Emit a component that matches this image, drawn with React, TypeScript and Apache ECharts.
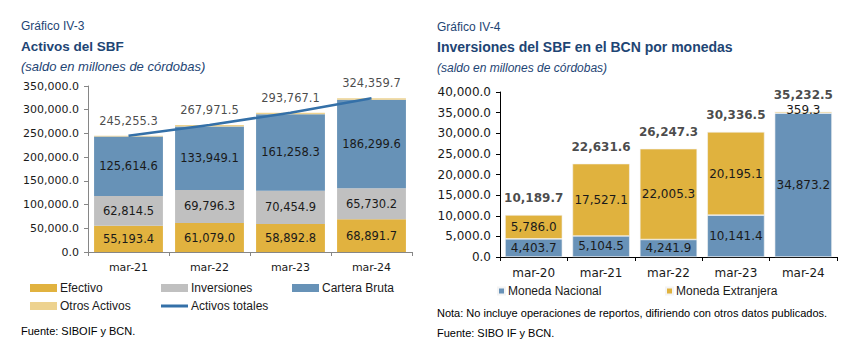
import React, { useEffect, useRef } from "react";
import * as echarts from "echarts";

const catsLeft = ["mar-21", "mar-22", "mar-23", "mar-24"];
const efectivo = [55193.4, 61079.0, 58892.8, 68891.7];
const inversiones = [62814.5, 69796.3, 70454.9, 65730.2];
const cartera = [125614.6, 133949.1, 161258.3, 186299.6];
const otros = [1632.8, 3147.1, 3161.1, 3438.2];
const totales = [245255.3, 267971.5, 293767.1, 324359.7];

const catsRight = ["mar-20", "mar-21", "mar-22", "mar-23", "mar-24"];
const nacional = [4403.7, 5104.5, 4241.9, 10141.4, 34873.2];
const extranjera = [5786.0, 17527.1, 22005.3, 20195.1, 359.3];
const totalRight = [10189.7, 22631.6, 26247.3, 30336.5, 35232.5];

function fmt(v: number): string {
  const s = v.toFixed(1);
  const [i, d] = s.split(".");
  return i.replace(/\B(?=(\d{3})+(?!\d))/g, ",") + "." + d;
}

const SANS = "Liberation Sans, Arial, sans-serif";
const VERD = "DejaVu Sans, Verdana, sans-serif";
const NAVY = "#1E4574";
const INK = "#1a1a1a";

function leg(name: string, left: number, top: number, w: number, h: number, icon?: string) {
  const l: any = {
    data: [icon ? { name, icon } : name],
    left,
    top,
    itemWidth: w,
    itemHeight: h,
    itemGap: 0,
    padding: 0,
    textStyle: { fontFamily: SANS, fontSize: 12, color: INK, padding: [0, 0, 0, -2] },
  };
  return l;
}

export default function App() {
  const ref = useRef<HTMLDivElement>(null);
  useEffect(() => {
    document.body.style.margin = "0";
    if (!ref.current) return;
    const chart = echarts.init(ref.current, undefined, { renderer: "svg" });
    const lblL = {
      show: true,
      position: "inside",
      color: INK,
      fontFamily: VERD,
      fontSize: 11.5,
      formatter: (p: any) => fmt(p.value),
    };
    const lblR = {
      show: true,
      position: "inside",
      color: INK,
      fontFamily: VERD,
      fontSize: 12,
      formatter: (p: any) => fmt(p.value),
    };
    const option: any = {
      animation: false,
      grid: [
        { left: 88, top: 86, width: 324, height: 166 },
        { left: 500, top: 92, width: 337, height: 165 },
      ],
      xAxis: [
        {
          type: "category",
          gridIndex: 0,
          data: catsLeft,
          axisLine: { lineStyle: { color: "#868686" } },
          axisTick: { show: true, length: 4, lineStyle: { color: "#868686" } },
          axisLabel: { color: INK, fontFamily: VERD, fontSize: 11, margin: 10 },
        },
        {
          type: "category",
          gridIndex: 1,
          data: catsRight,
          axisLine: { lineStyle: { color: "#000" } },
          axisTick: { show: true, length: 4, lineStyle: { color: "#000" } },
          axisLabel: { color: INK, fontFamily: VERD, fontSize: 12, margin: 10 },
        },
      ],
      yAxis: [
        {
          type: "value",
          gridIndex: 0,
          min: 0,
          max: 350000,
          interval: 50000,
          splitLine: { show: false },
          axisLine: { show: true, lineStyle: { color: "#868686" } },
          axisTick: { show: true, length: 4, lineStyle: { color: "#868686" } },
          axisLabel: {
            color: INK,
            fontFamily: VERD,
            fontSize: 11,
            margin: 9,
            formatter: (v: number) => fmt(v),
          },
        },
        {
          type: "value",
          gridIndex: 1,
          min: 0,
          max: 40000,
          interval: 5000,
          splitLine: { show: false },
          axisLine: { show: true, lineStyle: { color: "#000" } },
          axisTick: { show: true, length: 4, lineStyle: { color: "#000" } },
          axisLabel: {
            color: INK,
            fontFamily: VERD,
            fontSize: 12,
            margin: 9,
            formatter: (v: number) => fmt(v),
          },
        },
      ],
      legend: [
        leg("Efectivo", 30, 282, 27, 8, "rect"),
        leg("Inversiones", 161, 282, 27, 8, "rect"),
        leg("Cartera Bruta", 292, 282, 27, 8, "rect"),
        leg("Otros Activos", 30, 300, 27, 8, "rect"),
        leg("Activos totales", 161, 300, 27, 3, "rect"),
        leg("Moneda Nacional", 497, 285, 7, 7, "rect"),
        leg("Moneda Extranjera", 665, 285, 7, 7, "rect"),
      ],
      series: [
        {
          name: "Efectivo",
          type: "bar",
          stack: "a",
          xAxisIndex: 0,
          yAxisIndex: 0,
          barCategoryGap: "15%",
          data: efectivo,
          itemStyle: { color: "#E1B23F" },
          label: lblL,
        },
        {
          name: "Inversiones",
          type: "bar",
          stack: "a",
          xAxisIndex: 0,
          yAxisIndex: 0,
          data: inversiones,
          itemStyle: { color: "#C0C0C0" },
          label: lblL,
        },
        {
          name: "Cartera Bruta",
          type: "bar",
          stack: "a",
          xAxisIndex: 0,
          yAxisIndex: 0,
          data: cartera,
          itemStyle: { color: "#6792B7" },
          label: lblL,
        },
        {
          name: "Otros Activos",
          type: "bar",
          stack: "a",
          xAxisIndex: 0,
          yAxisIndex: 0,
          data: otros,
          itemStyle: { color: "#EDD28F" },
        },
        {
          name: "Activos totales",
          type: "line",
          xAxisIndex: 0,
          yAxisIndex: 0,
          data: totales,
          symbol: "none",
          lineStyle: { color: "#3470A8", width: 2.5 },
          itemStyle: { color: "#3470A8" },
          z: 5,
        },
        {
          name: "Activos totales etiqueta",
          type: "scatter",
          xAxisIndex: 0,
          yAxisIndex: 0,
          data: totales,
          symbolSize: 0,
          itemStyle: { color: "transparent" },
          label: {
            show: true,
            position: "top",
            distance: 9,
            color: INK,
            fontFamily: VERD,
            fontSize: 11.5,
            formatter: (p: any) => fmt(p.value),
          },
          z: 6,
        },
        {
          name: "Moneda Nacional",
          type: "bar",
          stack: "b",
          xAxisIndex: 1,
          yAxisIndex: 1,
          barCategoryGap: "15%",
          data: nacional,
          itemStyle: { color: "#6892B8", borderColor: "#f4f4f4", borderWidth: 0.6 },
          label: lblR,
        },
        {
          name: "Moneda Extranjera",
          type: "bar",
          stack: "b",
          xAxisIndex: 1,
          yAxisIndex: 1,
          data: extranjera.map((v, i) =>
            i === extranjera.length - 1
              ? { value: v, label: { position: "top", distance: -4 } }
              : v
          ),
          itemStyle: { color: "#E0B23E", borderColor: "#f4f4f4", borderWidth: 0.6 },
          label: lblR,
        },
        {
          name: "Total",
          type: "scatter",
          xAxisIndex: 1,
          yAxisIndex: 1,
          data: totalRight,
          symbolSize: 0,
          itemStyle: { color: "transparent" },
          label: {
            show: true,
            position: "top",
            distance: 11,
            color: INK,
            fontFamily: VERD,
            fontSize: 12,
            fontWeight: "bold",
            formatter: (p: any) => fmt(p.value),
          },
          z: 5,
        },
      ],
      graphic: [
        { type: "text", left: 21, top: 20, style: { text: "Gráfico IV-3", font: `12px ${SANS}`, fill: NAVY } },
        { type: "text", left: 21, top: 39, style: { text: "Activos del SBF", font: `bold 13.5px ${SANS}`, fill: NAVY } },
        { type: "text", left: 21, top: 60, style: { text: "(saldo en millones de córdobas)", font: `italic 13px ${SANS}`, fill: NAVY } },
        { type: "text", left: 437, top: 21, style: { text: "Gráfico IV-4", font: `12px ${SANS}`, fill: NAVY } },
        { type: "text", left: 437, top: 40, style: { text: "Inversiones del SBF en el BCN por monedas", font: `bold 14px ${SANS}`, fill: NAVY } },
        { type: "text", left: 437, top: 62, style: { text: "(saldo en millones de córdobas)", font: `italic 12px ${SANS}`, fill: NAVY } },
        { type: "text", left: 21, top: 325, style: { text: "Fuente: SIBOIF y BCN.", font: `11px ${SANS}`, fill: "#000" } },
        { type: "text", left: 437, top: 307, style: { text: "Nota: No incluye operaciones de reportos, difiriendo con otros datos publicados.", font: `11px ${SANS}`, fill: "#000" } },
        { type: "text", left: 437, top: 327, style: { text: "Fuente: SIBO IF y BCN.", font: `11px ${SANS}`, fill: "#000" } },
      ],
    };
    chart.setOption(option);
    return () => chart.dispose();
  }, []);
  return <div ref={ref} style={{ width: 862, height: 356 }} />;
}
